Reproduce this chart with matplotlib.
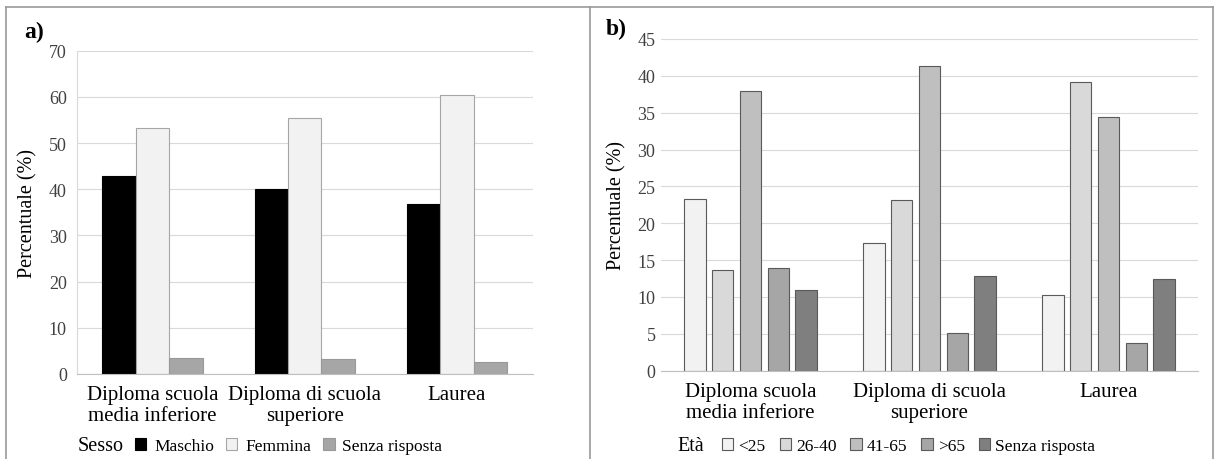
import numpy as np
import matplotlib
matplotlib.use('Agg')
import matplotlib.pyplot as plt
from matplotlib.lines import Line2D

plt.rcParams['font.family'] = ['Liberation Serif', 'DejaVu Serif']

categories = ['Diploma scuola\nmedia inferiore', 'Diploma di scuola\nsuperiore', 'Laurea']

# a) sesso
sesso_labels = ['Maschio', 'Femmina', 'Senza risposta']
maschio = [42.9, 40.0, 36.9]
femmina = [53.2, 55.5, 60.5]
senza_sesso = [3.4, 3.2, 2.7]

# b) eta
eta_labels = ['<25', '26-40', '41-65', '>65', 'Senza risposta']
eta_lt25 = [23.3, 17.3, 10.3]
eta_26_40 = [13.7, 23.2, 39.2]
eta_41_65 = [38.0, 41.4, 34.4]
eta_gt65 = [14.0, 5.1, 3.7]
eta_senza = [10.9, 12.8, 12.5]

W, H = 1218, 460
fig = plt.figure(figsize=(W / 100, H / 100), dpi=100)


def px_axes(x0, x1, ytop, ybot):
    return fig.add_axes([x0 / W, 1 - ybot / H, (x1 - x0) / W, (ybot - ytop) / H])


def style_axes(ax, ymax, step, left_spine, pad):
    ax.set_xlim(-0.5, 2.5)
    ax.set_ylim(0, ymax)
    ax.set_yticks(np.arange(0, ymax + 0.1, step))
    ax.grid(axis='y', color='#d9d9d9', linewidth=0.8)
    ax.set_axisbelow(True)
    for s in ['top', 'right']:
        ax.spines[s].set_visible(False)
    ax.spines['left'].set_visible(left_spine)
    ax.spines['left'].set_color('#d9d9d9')
    ax.spines['bottom'].set_color('#bfbfbf')
    ax.tick_params(axis='y', length=0, pad=pad, labelsize=13)
    ax.tick_params(axis='x', length=0, pad=8, labelsize=15)
    ax.set_xticks(range(len(categories)))
    ax.set_xticklabels(categories, linespacing=1.15)
    for t in ax.get_yticklabels():
        t.set_color('#404040')


x = np.arange(len(categories))

# ---- panel a
ax1 = px_axes(76.5, 533, 51.7, 375)
w1 = 0.22
cols_a = ['#000000', '#f2f2f2', '#a6a6a6']
edges_a = ['#000000', '#a6a6a6', '#999999']
bars_a = []
for i, vals in enumerate([maschio, femmina, senza_sesso]):
    b = ax1.bar(x + (i - 1) * w1, vals, w1, color=cols_a[i], edgecolor=edges_a[i], linewidth=0.8)
    bars_a.append(b)
style_axes(ax1, 70, 10, True, 7)
ax1.set_ylabel('Percentuale (%)', fontsize=14.5, labelpad=8)

fig.text(78 / W, 1 - 447 / H, 'Sesso', fontsize=14.5, va='center', ha='left')
fig.legend(bars_a, sesso_labels, loc='center left', bbox_to_anchor=(135 / W, 1 - 447 / H),
           ncol=3, frameon=False, fontsize=12.5, handlelength=0.65, handleheight=0.65,
           handletextpad=0.45, columnspacing=0.7, borderpad=0, borderaxespad=0)

# ---- panel b
ax2 = px_axes(661, 1198, 40, 371.7)
w2 = 0.12
step2 = 0.155
cols_b = ['#f2f2f2', '#d9d9d9', '#bfbfbf', '#a6a6a6', '#7f7f7f']
bars_b = []
for i, vals in enumerate([eta_lt25, eta_26_40, eta_41_65, eta_gt65, eta_senza]):
    b = ax2.bar(x + (i - 2) * step2, vals, w2, color=cols_b[i], edgecolor='#5a5a5a', linewidth=0.8)
    bars_b.append(b)
style_axes(ax2, 45, 5, False, 4)
ax2.set_ylabel('Percentuale (%)', fontsize=14.5, labelpad=8)

fig.text(677 / W, 1 - 447 / H, 'Età', fontsize=14.5, va='center', ha='left')
fig.legend(bars_b, eta_labels, loc='center left', bbox_to_anchor=(722 / W, 1 - 447 / H),
           ncol=5, frameon=False, fontsize=12.5, handlelength=0.65, handleheight=0.65,
           handletextpad=0.3, columnspacing=0.8, borderpad=0, borderaxespad=0)

# panel labels
fig.text(24 / W, 1 - 32 / H, 'a)', fontsize=17, fontweight='bold', va='center', ha='left')
fig.text(606 / W, 1 - 29 / H, 'b)', fontsize=17, fontweight='bold', va='center', ha='left')

# outer frame and divider
frame_kw = dict(color='#999999', linewidth=1.2, transform=fig.transFigure)
top_y = 1 - 8 / H
fig.add_artist(Line2D([6 / W, 1213 / W], [top_y, top_y], **frame_kw))
for xp in [6, 590, 1213]:
    fig.add_artist(Line2D([xp / W, xp / W], [0, top_y], **frame_kw))

fig.savefig('out.png', dpi=100, facecolor='white')
